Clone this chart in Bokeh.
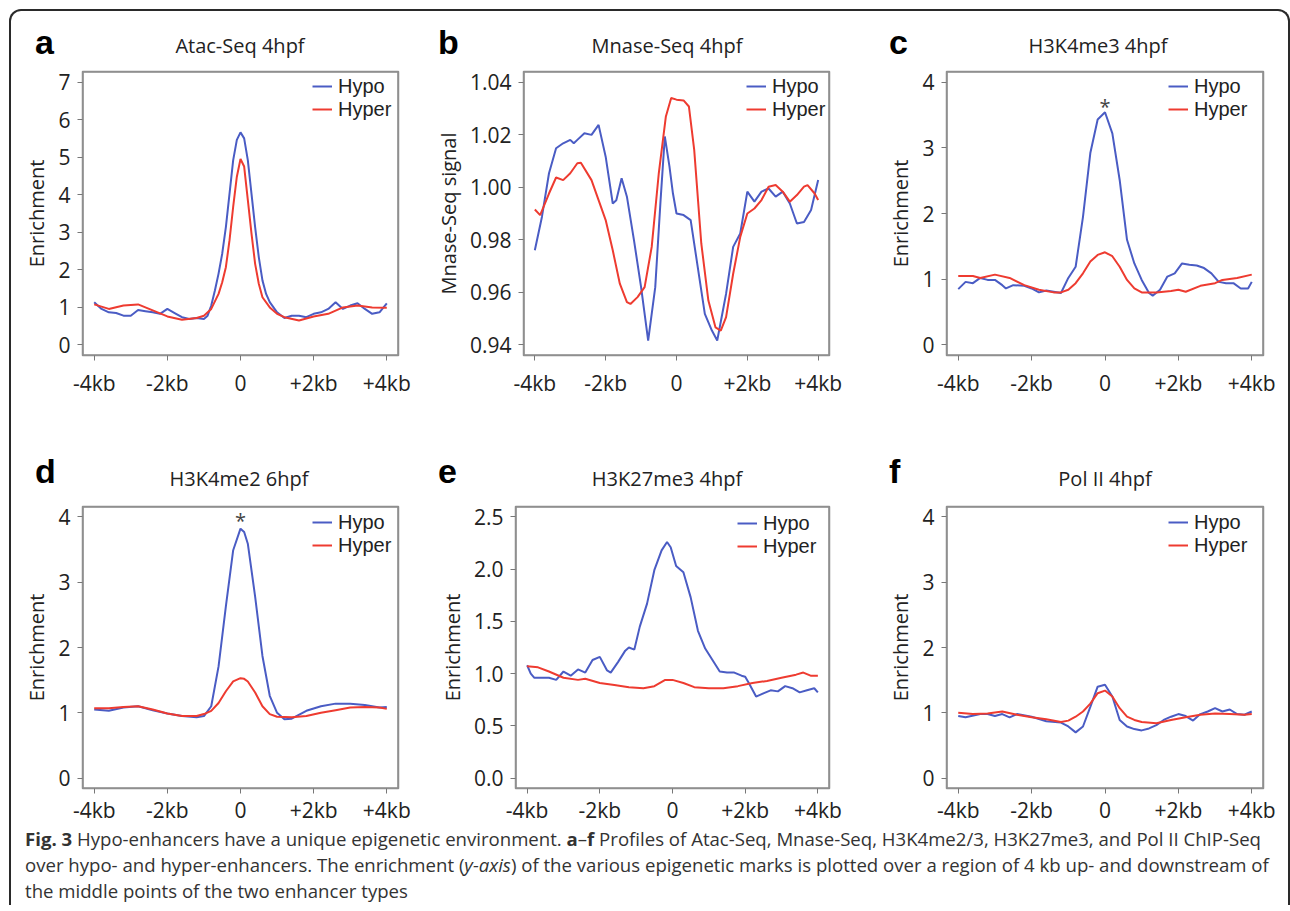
from bokeh.plotting import figure
from bokeh.models import Range1d, FixedTicker, Legend, LegendItem, Label, Div, NumeralTickFormatter
from bokeh.layouts import row, column
from bokeh.embed import file_html
from bokeh.resources import INLINE

# ---------------- data ----------------
x_ticks = [-4, -2, 0, 2, 4]
x_tick_labels = ["-4kb", "-2kb", "0", "+2kb", "+4kb"]
series_names = ["Hypo", "Hyper"]

# a  Atac-Seq 4hpf
a_hypo_x = [-4.0,-3.8,-3.6,-3.4,-3.2,-3.0,-2.8,-2.6,-2.4,-2.2,-2.0,-1.8,-1.6,-1.4,-1.2,-1.0,
            -0.9,-0.8,-0.7,-0.6,-0.5,-0.4,-0.3,-0.2,-0.1,0.0,0.1,0.2,0.3,0.4,0.5,0.6,0.7,0.8,
            1.0,1.2,1.4,1.6,1.8,2.0,2.2,2.4,2.6,2.8,3.0,3.2,3.4,3.6,3.8,4.0]
a_hypo = [1.14,0.96,0.87,0.85,0.78,0.78,0.93,0.90,0.87,0.83,0.96,0.85,0.74,0.69,0.72,0.69,
          0.78,1.05,1.45,1.90,2.43,3.14,4.03,4.92,5.46,5.66,5.50,4.92,4.03,3.14,2.34,1.72,1.36,1.14,
          0.87,0.72,0.78,0.78,0.74,0.83,0.87,0.96,1.14,0.96,1.05,1.11,0.96,0.83,0.87,1.11]
a_hyper_x = [-4.0,-3.6,-3.2,-2.8,-2.4,-2.0,-1.6,-1.2,-1.0,-0.8,-0.6,-0.5,-0.4,-0.3,-0.2,-0.1,0.0,
             0.1,0.2,0.3,0.4,0.5,0.6,0.8,1.0,1.2,1.6,2.0,2.4,2.8,3.2,3.6,4.0]
a_hyper = [1.08,0.96,1.05,1.08,0.92,0.76,0.67,0.72,0.78,0.96,1.36,1.67,2.07,2.79,3.68,4.48,4.95,
           4.75,3.86,2.97,2.16,1.63,1.27,1.00,0.83,0.74,0.65,0.76,0.83,1.00,1.05,1.00,0.99]

# b  Mnase-Seq 4hpf
b_hypo_x = [-4.0,-3.8,-3.6,-3.4,-3.2,-3.0,-2.9,-2.8,-2.6,-2.4,-2.2,-2.0,-1.8,-1.7,-1.55,-1.4,-1.2,
            -1.0,-0.8,-0.6,-0.45,-0.33,-0.2,-0.1,0.0,0.2,0.4,0.6,0.8,1.0,1.15,1.4,1.6,1.8,2.0,
            2.2,2.4,2.6,2.8,3.0,3.2,3.4,3.6,3.8,4.0]
b_hypo = [0.976,0.9887,1.0053,1.0148,1.0167,1.018,1.0167,1.018,1.0205,1.0199,1.0237,1.0116,0.9938,
          0.995,1.0034,0.9964,0.9798,0.962,0.9417,0.962,0.995,1.0193,1.008,0.9976,0.99,0.9894,0.9875,
          0.9696,0.9518,0.9455,0.9417,0.9595,0.9773,0.9824,0.9983,0.9945,0.9983,0.9995,0.9964,0.9983,
          0.9938,0.9862,0.9868,0.9913,1.0027]
b_hyper_x = [-4.0,-3.85,-3.6,-3.4,-3.2,-3.0,-2.8,-2.7,-2.4,-2.2,-2.0,-1.8,-1.6,-1.4,-1.3,-1.1,-0.9,
             -0.7,-0.5,-0.3,-0.15,0.0,0.2,0.35,0.5,0.7,0.9,1.1,1.25,1.4,1.6,1.8,2.0,2.2,2.4,2.6,
             2.8,3.0,3.2,3.4,3.6,3.7,3.9,4.0]
b_hyper = [0.9915,0.9894,0.9976,1.0037,1.0027,1.0053,1.0091,1.0093,1.0027,0.9951,0.9875,0.976,0.9633,
           0.9563,0.9556,0.9582,0.962,0.9773,1.0053,1.0269,1.0339,1.0333,1.033,1.0307,1.0142,0.9786,
           0.9569,0.9467,0.9455,0.9506,0.9671,0.9811,0.99,0.9919,0.9951,1.0002,1.0008,0.9983,0.9945,
           0.997,1.0002,1.0008,0.9976,0.9951]

# c  H3K4me3 4hpf
c_hypo_x = [-4.0,-3.8,-3.6,-3.4,-3.2,-3.0,-2.8,-2.7,-2.5,-2.2,-2.0,-1.8,-1.6,-1.4,-1.2,-1.0,-0.8,
            -0.6,-0.4,-0.2,0.0,0.2,0.4,0.6,0.8,1.0,1.2,1.3,1.5,1.7,1.9,2.1,2.3,2.5,2.7,2.9,3.1,
            3.3,3.5,3.7,3.9,4.0]
c_hypo = [0.85,0.96,0.94,1.02,0.99,0.99,0.91,0.86,0.91,0.90,0.86,0.80,0.83,0.81,0.79,1.02,1.19,
          1.95,2.92,3.43,3.54,3.22,2.51,1.60,1.24,0.99,0.79,0.75,0.84,1.04,1.09,1.24,1.22,1.21,
          1.17,1.09,0.96,0.94,0.94,0.86,0.86,0.96]
c_hyper_x = [-4.0,-3.6,-3.4,-3.0,-2.6,-2.2,-1.8,-1.4,-1.2,-1.0,-0.8,-0.6,-0.4,-0.2,0.0,0.2,0.4,
             0.6,0.8,1.0,1.4,1.8,2.0,2.2,2.6,3.0,3.2,3.6,4.0]
c_hyper = [1.05,1.05,1.02,1.07,1.02,0.91,0.84,0.80,0.80,0.84,0.94,1.09,1.27,1.37,1.41,1.35,1.19,
           0.99,0.86,0.80,0.80,0.82,0.84,0.81,0.90,0.94,0.99,1.02,1.07]

# d  H3K4me2 6hpf
d_hypo_x = [-4.0,-3.6,-3.2,-2.8,-2.4,-2.0,-1.6,-1.2,-1.0,-0.8,-0.6,-0.4,-0.2,0.0,0.1,0.2,0.4,
            0.6,0.8,1.0,1.2,1.4,1.8,2.2,2.6,3.0,3.4,3.8,4.0]
d_hypo = [1.05,1.03,1.08,1.10,1.04,0.99,0.95,0.93,0.95,1.10,1.71,2.63,3.49,3.82,3.77,3.59,2.78,
          1.87,1.26,1.00,0.90,0.91,1.03,1.10,1.14,1.14,1.12,1.08,1.09]
d_hyper_x = [-4.0,-3.6,-3.2,-2.8,-2.4,-2.0,-1.6,-1.2,-1.0,-0.8,-0.6,-0.4,-0.2,0.0,0.1,0.2,0.4,
             0.6,0.8,1.0,1.4,1.8,2.2,2.6,3.0,3.4,3.8,4.0]
d_hyper = [1.07,1.07,1.09,1.10,1.05,0.99,0.95,0.95,0.98,1.03,1.15,1.33,1.48,1.53,1.52,1.48,1.31,
           1.10,0.98,0.94,0.93,0.95,1.00,1.04,1.08,1.09,1.08,1.06]

# e  H3K27me3 4hpf
e_hypo_x = [-4.0,-3.9,-3.8,-3.6,-3.4,-3.2,-3.0,-2.8,-2.6,-2.4,-2.2,-2.0,-1.8,-1.7,-1.5,-1.3,-1.2,
            -1.05,-0.9,-0.7,-0.5,-0.3,-0.15,-0.05,0.1,0.3,0.5,0.7,0.9,1.1,1.3,1.5,1.7,1.9,2.0,
            2.1,2.3,2.5,2.7,2.9,3.1,3.3,3.5,3.7,3.9,4.0]
e_hypo = [1.08,1.00,0.96,0.96,0.96,0.94,1.02,0.98,1.04,1.01,1.13,1.16,1.03,1.01,1.11,1.22,1.25,
          1.23,1.45,1.67,1.99,2.18,2.26,2.21,2.03,1.97,1.73,1.41,1.24,1.13,1.02,1.01,1.01,0.98,
          0.97,0.91,0.78,0.81,0.84,0.83,0.88,0.86,0.82,0.84,0.86,0.82]
e_hyper_x = [-4.0,-3.7,-3.4,-3.0,-2.6,-2.4,-2.0,-1.6,-1.2,-0.8,-0.5,-0.2,0.0,0.3,0.6,1.0,1.4,
             1.8,2.2,2.6,3.0,3.4,3.6,3.8,4.0]
e_hyper = [1.07,1.06,1.02,0.96,0.94,0.95,0.91,0.89,0.87,0.86,0.88,0.94,0.94,0.91,0.87,0.86,0.86,
           0.88,0.91,0.93,0.96,0.99,1.01,0.98,0.98]

# f  Pol II 4hpf
f_hypo_x = [-4.0,-3.8,-3.4,-3.2,-3.0,-2.8,-2.6,-2.4,-2.0,-1.6,-1.2,-1.0,-0.8,-0.6,-0.4,-0.2,0.0,
            0.2,0.4,0.6,0.8,1.0,1.2,1.4,1.6,1.8,2.0,2.2,2.4,2.6,2.8,3.0,3.2,3.4,3.6,3.8,4.0]
f_hypo = [0.95,0.93,0.98,0.98,0.95,0.98,0.93,0.98,0.94,0.87,0.85,0.79,0.70,0.79,1.09,1.40,1.43,
          1.25,0.89,0.79,0.75,0.73,0.76,0.81,0.89,0.94,0.98,0.95,0.88,0.98,1.02,1.07,1.02,1.05,
          0.98,0.97,1.02]
f_hyper_x = [-4.0,-3.6,-3.2,-2.8,-2.4,-2.0,-1.6,-1.2,-1.0,-0.8,-0.6,-0.4,-0.2,0.0,0.2,0.4,0.6,
             0.8,1.0,1.4,1.8,2.2,2.6,3.0,3.4,3.8,4.0]
f_hyper = [1.00,0.98,0.99,1.02,0.97,0.93,0.90,0.86,0.88,0.94,1.02,1.14,1.30,1.34,1.25,1.07,0.94,
           0.89,0.86,0.84,0.89,0.93,0.97,0.99,0.98,0.97,0.98]

a_yticks = [0, 1, 2, 3, 4, 5, 6, 7]
b_yticks = [0.94, 0.96, 0.98, 1.00, 1.02, 1.04]
c_yticks = [0, 1, 2, 3, 4]
d_yticks = [0, 1, 2, 3, 4]
e_yticks = [0.0, 0.5, 1.0, 1.5, 2.0, 2.5]
f_yticks = [0, 1, 2, 3, 4]

c_star_y = 3.63
d_star_y = 3.95

panel_letters = ["a", "b", "c", "d", "e", "f"]
panel_titles = ["Atac-Seq 4hpf", "Mnase-Seq 4hpf", "H3K4me3 4hpf",
                "H3K4me2 6hpf", "H3K27me3 4hpf", "Pol II 4hpf"]

caption_html = (
    "<b>Fig. 3</b> Hypo-enhancers have a unique epigenetic environment. <b>a</b>–<b>f</b> Profiles of "
    "Atac-Seq, Mnase-Seq, H3K4me2/3, H3K27me3, and Pol II ChIP-Seq<br>"
    "over hypo- and hyper-enhancers. The enrichment (<i>y-axis</i>) of the various epigenetic marks is "
    "plotted over a region of 4 kb up- and downstream of<br>"
    "the middle points of the two enhancer types"
)

# ---------------- styling ----------------
FONT = "Open Sans"
LEG_FONT = "Liberation Sans"
BLUE = "#4a5cc4"
RED = "#ee3b30"
TXT = "#222222"
BOX = "#8f8f8f"


def header(letter, title, width, height, letter_left, letter_top, title_center, title_top):
    html = (
        f'<div style="position:relative;width:{width}px;height:{height}px;overflow:visible">'
        f'<span style="position:absolute;left:{letter_left}px;top:{letter_top}px;line-height:1;'
        f'font-family:\'Liberation Sans\',Arial,sans-serif;font-weight:bold;font-size:34px;color:#000">{letter}</span>'
        f'<span style="position:absolute;left:{title_center}px;top:{title_top}px;line-height:1;'
        f'transform:translateX(-50%);white-space:nowrap;font-family:\'Open Sans\',sans-serif;'
        f'font-size:20px;color:{TXT}">{title}</span></div>'
    )
    return Div(text=html, width=width, height=height, margin=0)


def make_panel(ylabel, yticks, yfmt, hx, hy, rx, ry, width, height,
               mbl, mbr, mbt, mbb, xlab_standoff, leg_dx, leg_dy, star_y=None):
    lo, hi = yticks[0], yticks[-1]
    pad = 0.04 * (hi - lo)
    xr = Range1d(-4.32, 4.32)
    yr = Range1d(lo - pad, hi + pad)
    p = figure(width=width, height=height, x_range=xr, y_range=yr,
               output_backend="svg", toolbar_location=None,
               min_border_left=mbl, min_border_right=mbr,
               min_border_top=mbt, min_border_bottom=mbb, margin=0)
    p.grid.visible = False
    p.outline_line_color = BOX
    p.outline_line_width = 1.5
    p.background_fill_color = "white"
    p.border_fill_color = "white"
    # plot-region box, drawn on the range limits
    p.quad(left=[xr.start], right=[xr.end], bottom=[yr.start], top=[yr.end],
           fill_alpha=0, line_color=BOX, line_width=2.6)

    p.xaxis.ticker = FixedTicker(ticks=x_ticks)
    p.xaxis.major_label_overrides = {t: l for t, l in zip(x_ticks, x_tick_labels)}
    p.yaxis.ticker = FixedTicker(ticks=yticks)
    p.yaxis.formatter = NumeralTickFormatter(format=yfmt)
    for ax in (p.xaxis[0], p.yaxis[0]):
        ax.axis_line_color = None
        ax.major_tick_line_color = "#777777"
        ax.major_tick_out = 5
        ax.major_tick_in = 0
        ax.minor_tick_line_color = None
        ax.major_label_text_font = FONT
        ax.major_label_text_font_size = "21px"
        ax.major_label_text_color = TXT
    p.xaxis.major_label_standoff = xlab_standoff
    p.yaxis.major_label_standoff = 7
    p.yaxis.axis_label = ylabel
    p.yaxis.axis_label_text_font = FONT
    p.yaxis.axis_label_text_font_size = "20px"
    p.yaxis.axis_label_text_font_style = "normal"
    p.yaxis.axis_label_text_color = TXT
    p.yaxis.axis_label_standoff = 5

    r1 = p.line(hx, hy, line_color=BLUE, line_width=2)
    r2 = p.line(rx, ry, line_color=RED, line_width=2)

    fw = width - mbl - mbr
    fh = height - mbt - mbb
    item_h = 23
    for k, (name, rend) in enumerate(zip(series_names, [r1, r2])):
        leg = Legend(items=[LegendItem(label=name, renderers=[rend])],
                     location=(fw - leg_dx, fh - leg_dy - item_h * k - item_h / 2))
        leg.background_fill_alpha = 0
        leg.border_line_alpha = 0
        leg.label_text_font = LEG_FONT
        leg.label_text_font_size = "20px"
        leg.label_text_color = TXT
        leg.glyph_width = 20
        leg.glyph_height = 16
        leg.label_height = 16
        leg.label_standoff = 6
        leg.padding = 0
        leg.margin = 0
        p.add_layout(leg)

    if star_y is not None:
        p.add_layout(Label(x=0, y=star_y, text="*", text_align="center", text_baseline="middle",
                           text_font=FONT, text_font_size="20px", text_color="#444444"))
    return p


# row 1: header 55px + figure 344px ; row 2: header 80px + figure 336px
W = [420, 432, 425]
pa = make_panel("Enrichment", a_yticks, "0", a_hypo_x, a_hypo, a_hyper_x, a_hyper,
                W[0], 344, 71, 33, 5, 55, 8, 86, 15)
pb = make_panel("Mnase-Seq signal", b_yticks, "0.00", b_hypo_x, b_hypo, b_hyper_x, b_hyper,
                W[1], 344, 83, 34, 5, 55, 8, 92, 15)
pc = make_panel("Enrichment", c_yticks, "0", c_hypo_x, c_hypo, c_hyper_x, c_hyper,
                W[2], 344, 83, 25, 5, 55, 8, 95, 15, star_y=c_star_y)
pd = make_panel("Enrichment", d_yticks, "0", d_hypo_x, d_hypo, d_hyper_x, d_hyper,
                W[0], 336, 71, 33, 16, 37, 2, 86, 17, star_y=d_star_y)
pe = make_panel("Enrichment", e_yticks, "0.0", e_hypo_x, e_hypo, e_hyper_x, e_hyper,
                W[1], 336, 84, 34, 16, 37, 2, 92, 18)
pf = make_panel("Enrichment", f_yticks, "0", f_hypo_x, f_hypo, f_hyper_x, f_hyper,
                W[2], 336, 83, 25, 16, 37, 2, 95, 17)

ha = header(panel_letters[0], panel_titles[0], W[0], 55, 24, 14, 229, 25)
hb = header(panel_letters[1], panel_titles[1], W[1], 55, 7, 14, 236, 25)
hc = header(panel_letters[2], panel_titles[2], W[2], 55, 26, 14, 235, 25)
hd = header(panel_letters[3], panel_titles[3], W[0], 80, 24, 44, 228, 59)
he = header(panel_letters[4], panel_titles[4], W[1], 80, 7, 44, 236, 59)
hf = header(panel_letters[5], panel_titles[5], W[2], 80, 26, 44, 242, 59)

cap = Div(text=caption_html, width=1277, height=79, margin=0,
          styles={"font-family": "'Open Sans', sans-serif", "font-size": "18.6px",
                  "line-height": "26px", "color": "#333333", "white-space": "nowrap",
                  "padding-left": "14px", "padding-top": "0px", "box-sizing": "border-box"})

grid = column(
    row(column(ha, pa, spacing=0), column(hb, pb, spacing=0), column(hc, pc, spacing=0), spacing=0),
    row(column(hd, pd, spacing=0), column(he, pe, spacing=0), column(hf, pf, spacing=0), spacing=0),
    cap, spacing=0, margin=(9, 0, 0, 9),
    styles={"border": "2px solid #2a2a2a", "border-bottom": "none",
            "border-radius": "12px 12px 0 0", "background": "white"})

open("out.html", "w").write(file_html(grid, INLINE))
